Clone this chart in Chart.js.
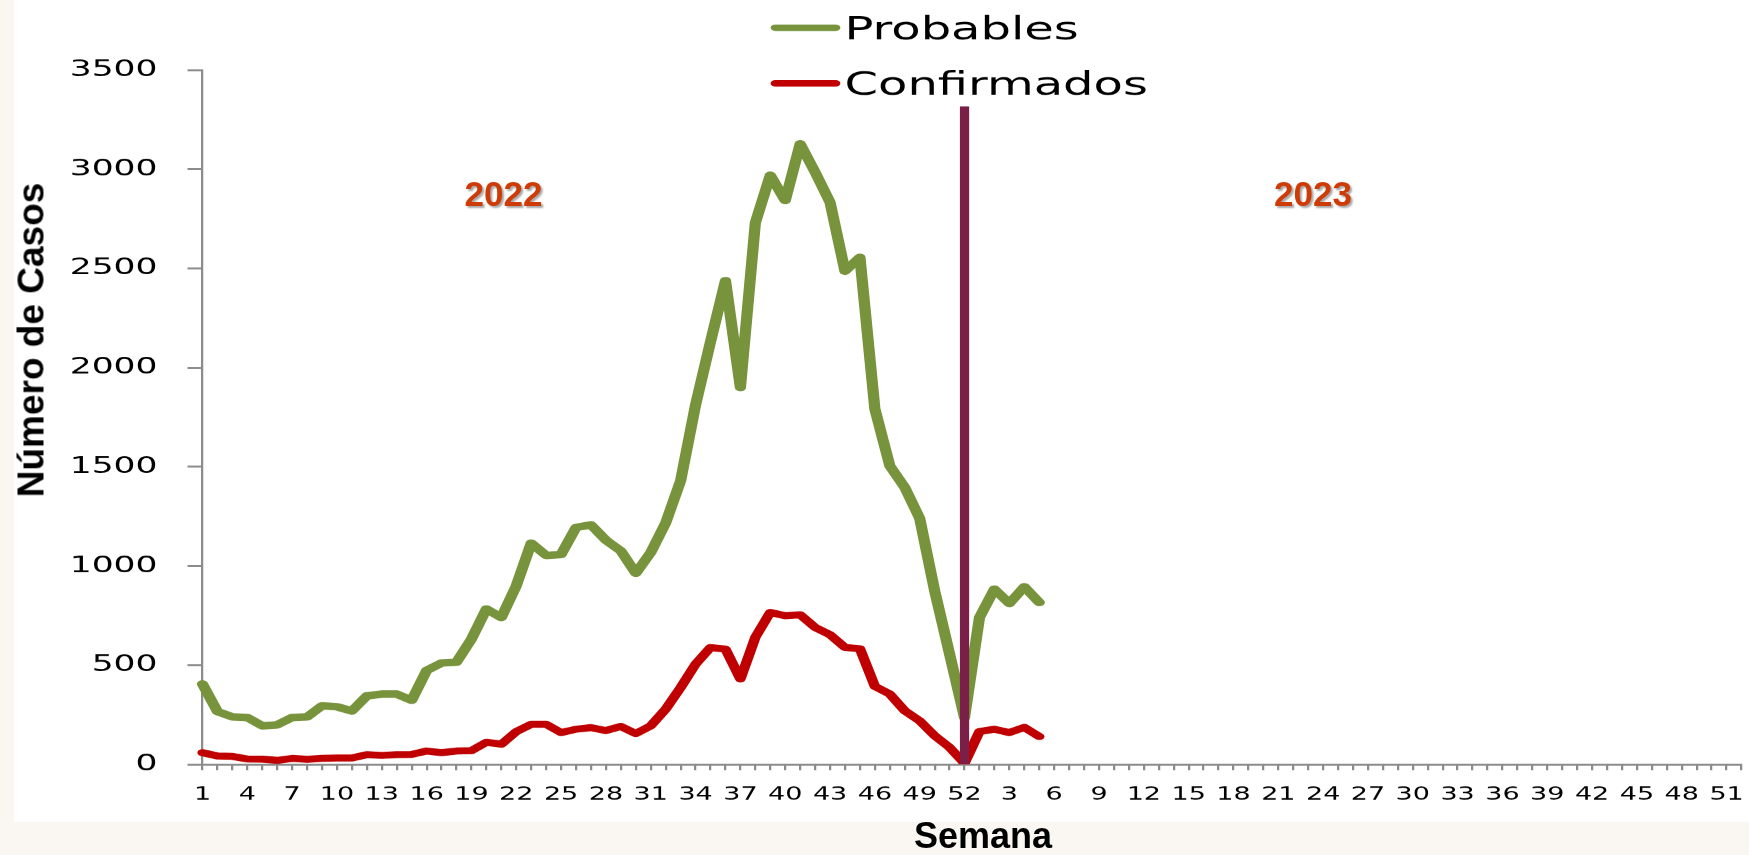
<!DOCTYPE html>
<html>
<head>
<meta charset="utf-8">
<script src="https://cdn.jsdelivr.net/npm/chart.js@4.4.1/dist/chart.umd.min.js"></script>
<style>
  html, body { margin: 0; padding: 0; width: 1749px; height: 855px; overflow: hidden; background: #FAF7F2; }
  #paper { position: absolute; left: 14px; top: 0; width: 1735px; height: 822px; background: #ffffff; }
  #wrap { position: absolute; left: 0; top: 0; width: 1166px; height: 855px; transform: scaleX(1.5); transform-origin: 0 0; }
  .t { position: absolute; font-family: "Liberation Sans", Arial, sans-serif; font-weight: bold; line-height: 1; white-space: nowrap; transform: translate(-50%, -50%); }
  #ytitle { left: 30.5px; top: 340px; font-size: 37px; color: #000; transform: translate(-50%, -50%) rotate(-90deg); }
  #xtitle { left: 983px; top: 836px; font-size: 36px; color: #000; }
  .yr { font-size: 35px; color: #CF3B06; text-shadow: 2px 2px 2px rgba(0,0,0,0.35); }
</style>
</head>
<body>
<div id="paper"></div>
<div id="wrap"><canvas id="c" width="1166" height="855"></canvas></div>
<div class="t" id="ytitle">Número de Casos</div>
<div class="t" id="xtitle">Semana</div>
<div class="t yr" style="left:503.5px; top:193px;">2022</div>
<div class="t yr" style="left:1313px; top:193px;">2023</div>
<script>
// Week labels: 2022 (weeks 1-52) followed by 2023 (weeks 1-52)
const weeks2022 = [1,2,3,4,5,6,7,8,9,10,11,12,13,14,15,16,17,18,19,20,21,22,23,24,25,26,
  27,28,29,30,31,32,33,34,35,36,37,38,39,40,41,42,43,44,45,46,47,48,49,50,51,52];
const weeks2023 = [1,2,3,4,5,6,7,8,9,10,11,12,13,14,15,16,17,18,19,20,21,22,23,24,25,26,
  27,28,29,30,31,32,33,34,35,36,37,38,39,40,41,42,43,44,45,46,47,48,49,50,51,52];

// Probables
const probables2022 = [405,266,239,236,194,199,236,239,295,290,269,345,354,354,323,473,511,515,631,783,
  740,900,1115,1053,1058,1194,1207,1130,1076,963,1068,1217,1430,1812,2130,2438,1900,2730,2970,2842,
  3128,2985,2833,2486,2556,1791,1505,1396,1240,875,556,236];
const probables2023 = [740,883,811,895,816];

// Confirmados
const confirmados2022 = [59,42,40,27,26,20,30,25,30,32,32,49,45,49,50,67,59,67,69,111,
  101,165,202,202,160,177,185,170,191,155,194,278,387,505,589,581,430,640,766,749,
  754,690,653,589,583,393,354,270,219,144,85,5];
const confirmados2023 = [165,177,160,186,140];

// Year separator (vertical bar at week 52 of 2022)
const separatorWeek = 52;
const separatorValue = 3315;

const yTicks = [0,500,1000,1500,2000,2500,3000,3500];

const labels = weeks2022.map(String).concat(weeks2023.map(String));
const nAll = labels.length;
function pad(arr) { const out = arr.slice(); while (out.length < nAll) out.push(null); return out; }
const probData = pad(probables2022.concat(probables2023));
const confData = pad(confirmados2022.concat(confirmados2023));
const sepData = labels.map((l, i) => (i === separatorWeek - 1 ? separatorValue : null));

const legendPlugin = {
  id: 'stackedLegend',
  afterDraw(chart) {
    const ctx = chart.ctx;
    const items = chart.data.datasets.filter(d => d.type === 'line');
    const rows = [27.7, 83.3];
    ctx.save();
    items.forEach((d, k) => {
      const y = rows[k];
      ctx.strokeStyle = d.borderColor;
      ctx.lineWidth = 6.5;
      ctx.lineCap = 'round';
      ctx.beginPath();
      ctx.moveTo(517, y);
      ctx.lineTo(557, y);
      ctx.stroke();
      ctx.fillStyle = '#000';
      ctx.font = '32px "DejaVu Sans"';
      ctx.textBaseline = 'alphabetic';
      ctx.textAlign = 'left';
      ctx.fillText(d.label, 563, y + 0.365 * 32);
    });
    ctx.restore();
  }
};

new Chart(document.getElementById('c'), {
  data: {
    labels: labels,
    datasets: [
      { type: 'bar', label: 'sep', data: sepData, backgroundColor: '#7A1F47', barThickness: 5.5, order: 0 },
      { type: 'line', label: 'Probables', data: probData, borderColor: '#77933C', borderWidth: 7.5,
        pointRadius: 0, tension: 0, borderJoinStyle: 'round', borderCapStyle: 'round', spanGaps: false, order: 2 },
      { type: 'line', label: 'Confirmados', data: confData, borderColor: '#C00000', borderWidth: 7,
        pointRadius: 0, tension: 0, borderJoinStyle: 'round', borderCapStyle: 'round', spanGaps: false, order: 1 }
    ]
  },
  options: {
    responsive: false,
    maintainAspectRatio: false,
    animation: false,
    devicePixelRatio: 1.5,
    layout: { padding: { top: 70, left: 0, right: 5, bottom: 0 } },
    plugins: { legend: { display: false }, tooltip: { enabled: false } },
    scales: {
      x: {
        type: 'category',
        offset: false,
        grid: { offset: false, display: true, drawOnChartArea: false, drawTicks: true, tickLength: 6, color: '#8c8c8c', lineWidth: 1.5 },
        border: { display: true, color: '#8c8c8c', width: 2 },
        ticks: {
          autoSkip: false, maxRotation: 0, minRotation: 0, padding: 14, color: '#000',
          font: { family: 'DejaVu Sans', size: 18 },
          callback: (v, i) => (i % 3 === 0 ? labels[i] : '')
        },
        afterFit: s => { s.height = 91; s.paddingLeft = 0; s.paddingRight = 0; }
      },
      y: {
        min: 0, max: 3500,
        afterBuildTicks: s => { s.ticks = yTicks.map(v => ({ value: v })); },
        grid: { drawOnChartArea: false, drawTicks: true, tickLength: 10, color: '#8c8c8c', lineWidth: 2 },
        border: { display: true, color: '#8c8c8c', width: 1.5 },
        ticks: { padding: 20, color: '#000', font: { family: 'DejaVu Sans', size: 23 }, callback: v => String(v) },
        afterFit: s => { s.width = 135; }
      }
    }
  },
  plugins: [legendPlugin]
});
</script>
</body>
</html>
